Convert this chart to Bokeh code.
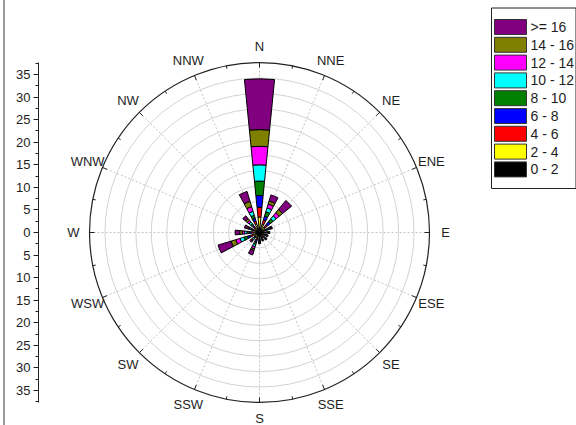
import numpy as np
from bokeh.plotting import figure
from bokeh.models import Range1d, LinearAxis, FixedTicker, CustomJSTickFormatter
from bokeh.core.properties import value
from bokeh.embed import file_html
from bokeh.resources import INLINE

# ---------------- data ----------------
directions = ["N", "NNE", "NE", "ENE", "E", "ESE", "SE", "SSE",
              "S", "SSW", "SW", "WSW", "W", "WNW", "NW", "NNW"]
speed_bins = ["0 - 2", "2 - 4", "4 - 6", "6 - 8", "8 - 10",
              "10 - 12", "12 - 14", "14 - 16", ">= 16"]
bin_colors = ["#000000", "#FFFF00", "#FF0000", "#0000FF", "#008000",
              "#00FFFF", "#FF00FF", "#808000", "#800080"]

#            N     NNE  NE   ENE  E    ESE  SE   SSE  S    SSW  SW   WSW  W    WNW  NW   NNW
freq_0_2   = [1.2, 1.0, 0.9, 0.8, 0.8, 0.8, 0.8, 0.8, 0.8, 0.8, 0.8, 0.9, 0.9, 0.9, 0.9, 1.2]
freq_2_4   = [2.2, 0.9, 0.7, 0.3, 0.2, 0.2, 0.2, 0.2, 0.3, 0.5, 0.3, 0.6, 0.5, 0.3, 0.4, 0.8]
freq_4_6   = [2.2, 1.0, 0.7, 0.3, 0.2, 0.2, 0.2, 0.2, 0.2, 0.5, 0.2, 0.6, 0.4, 0.3, 0.4, 0.6]
freq_6_8   = [2.6, 0.9, 0.8, 0.3, 0.2, 0.1, 0.2, 0.1, 0.2, 0.5, 0.3, 0.7, 0.5, 0.3, 0.4, 0.7]
freq_8_10  = [3.2, 1.0, 0.8, 0.3, 0.2, 0.2, 0.2, 0.2, 0.2, 0.5, 0.2, 0.8, 0.5, 0.3, 0.4, 0.7]
freq_10_12 = [3.6, 0.9, 0.9, 0.3, 0.2, 0.1, 0.2, 0.1, 0.2, 0.5, 0.3, 0.9, 0.5, 0.3, 0.5, 0.9]
freq_12_14 = [4.1, 0.9, 0.9, 0.2, 0.2, 0.1, 0.1, 0.1, 0.2, 0.5, 0.2, 1.0, 0.5, 0.3, 0.5, 1.1]
freq_14_16 = [3.7, 0.7, 0.9, 0.2, 0.1, 0.1, 0.1, 0.1, 0.2, 0.4, 0.2, 1.1, 0.6, 0.3, 0.5, 1.2]
freq_16up  = [11.25, 1.4, 2.6, 0.3, 0.2, 0.2, 0.2, 0.2, 0.2, 1.0, 0.3, 3.0, 1.0, 0.5, 0.8, 2.3]
series = [freq_0_2, freq_2_4, freq_4_6, freq_6_8, freq_8_10,
          freq_10_12, freq_12_14, freq_14_16, freq_16up]

axis_ticks = [-35, -30, -25, -20, -15, -10, -5, 0, 5, 10, 15, 20, 25, 30, 35]
r_max = 37.66          # radial axis maximum
n_grid = 11            # number of grid rings

# ---------------- layout constants ----------------
S = 4.514                # px per unit
CXP, CYP = 259.0, 232.0  # centre in picture px
ORG = 0                  # picture offset of the figure
FIG_W, FIG_H = 576, 425
LEFT_B = 38

def dx(px):
    return (px - CXP) / S

def dy(py):
    return (CYP - py) / S

x0, x1 = dx(ORG + LEFT_B), dx(ORG + FIG_W)
y1, y0 = dy(ORG), dy(ORG + FIG_H)

p = figure(width=FIG_W, height=FIG_H, x_range=Range1d(x0, x1), y_range=Range1d(y0, y1),
           output_backend="svg", toolbar_location=None,
           x_axis_location=None, y_axis_location=None,
           min_border_left=LEFT_B, min_border_right=0, min_border_top=0, min_border_bottom=0)
p.grid.visible = False
p.outline_line_color = None
p.background_fill_color = "white"
p.border_fill_color = None
p.styles = {"background": "linear-gradient(to right, white 3px, #9a9a9a 3px, "
                          "#9a9a9a 5px, white 5px)"}

FONT = value("Liberation Sans")
TXT = "#1e1e1e"

# grid rings
ring_r = [r_max * k / n_grid for k in range(1, n_grid)]
p.circle(x=[0] * len(ring_r), y=[0] * len(ring_r), radius=ring_r,
         fill_color=None, line_color="#d2d2d2", line_width=1)

# radial dashed lines
ang = np.radians(90 - np.arange(len(directions)) * 22.5)
p.segment(x0=[0] * len(ang), y0=[0] * len(ang),
          x1=list(r_max * np.cos(ang)), y1=list(r_max * np.sin(ang)),
          line_color="#c4c4c4", line_width=1, line_dash="2 2")

# stacked wedges
half = np.radians(5.625)
cum = np.zeros(len(directions))
for vals, col in zip(series, bin_colors):
    v = np.array(vals)
    p.annular_wedge(x=[0] * len(v), y=[0] * len(v),
                    inner_radius=list(cum), outer_radius=list(cum + v),
                    start_angle=list(ang - half), end_angle=list(ang + half),
                    fill_color=col, line_color="black", line_width=1)
    cum = cum + v

# outer circle
p.circle(x=[0], y=[0], radius=[r_max], fill_color=None, line_color="#222222", line_width=1.2)

# ticks on outer circle
maj_in = 5 / S
min_in = 3 / S
p.segment(x0=list(r_max * np.cos(ang)), y0=list(r_max * np.sin(ang)),
          x1=list((r_max - maj_in) * np.cos(ang)), y1=list((r_max - maj_in) * np.sin(ang)),
          line_color="#222222", line_width=1)
mang = ang - np.radians(11.25)
p.segment(x0=list(r_max * np.cos(mang)), y0=list(r_max * np.sin(mang)),
          x1=list((r_max - min_in) * np.cos(mang)), y1=list((r_max - min_in) * np.sin(mang)),
          line_color="#222222", line_width=1)

# direction labels
lab_r = 186 / S
p.text(x=list(lab_r * np.cos(ang)), y=list(lab_r * np.sin(ang)), text=directions,
       text_align="center", text_baseline="middle",
       text_font=FONT, text_font_size="13px", text_color=TXT)

# left radial axis
ax = LinearAxis(bounds=(-r_max, r_max),
                ticker=FixedTicker(ticks=axis_ticks,
                                   minor_ticks=[k * 2.5 for k in range(-15, 16)]),
                formatter=CustomJSTickFormatter(code="return Math.abs(tick).toFixed(0);"),
                major_tick_out=5, major_tick_in=0, minor_tick_out=3, minor_tick_in=0,
                major_label_standoff=3,
                axis_line_color="#222222", major_tick_line_color="#222222",
                minor_tick_line_color="#222222",
                major_label_text_font="Liberation Sans", major_label_text_font_size="13px",
                major_label_text_color=TXT)
p.add_layout(ax, "left")

# legend (drawn manually)
p.quad(left=[dx(491)], right=[dx(575.5)], top=[dy(7.5)], bottom=[dy(188)],
       fill_color="white", line_color="#222222", line_width=1)
leg_labels = speed_bins[::-1]
leg_colors = bin_colors[::-1]
rows = [26.5 + i * 17.8 for i in range(len(leg_labels))]
p.quad(left=[dx(494)] * len(rows), right=[dx(526)] * len(rows),
       top=[dy(r - 7.5) for r in rows], bottom=[dy(r + 7.5) for r in rows],
       fill_color=leg_colors, line_color="#333333", line_width=1)
p.text(x=[dx(530)] * len(rows), y=[dy(r) for r in rows], text=leg_labels,
       text_align="left", text_baseline="middle",
       text_font=FONT, text_font_size="14px", text_color=TXT)

open("out.html", "w").write(file_html(p, INLINE))
